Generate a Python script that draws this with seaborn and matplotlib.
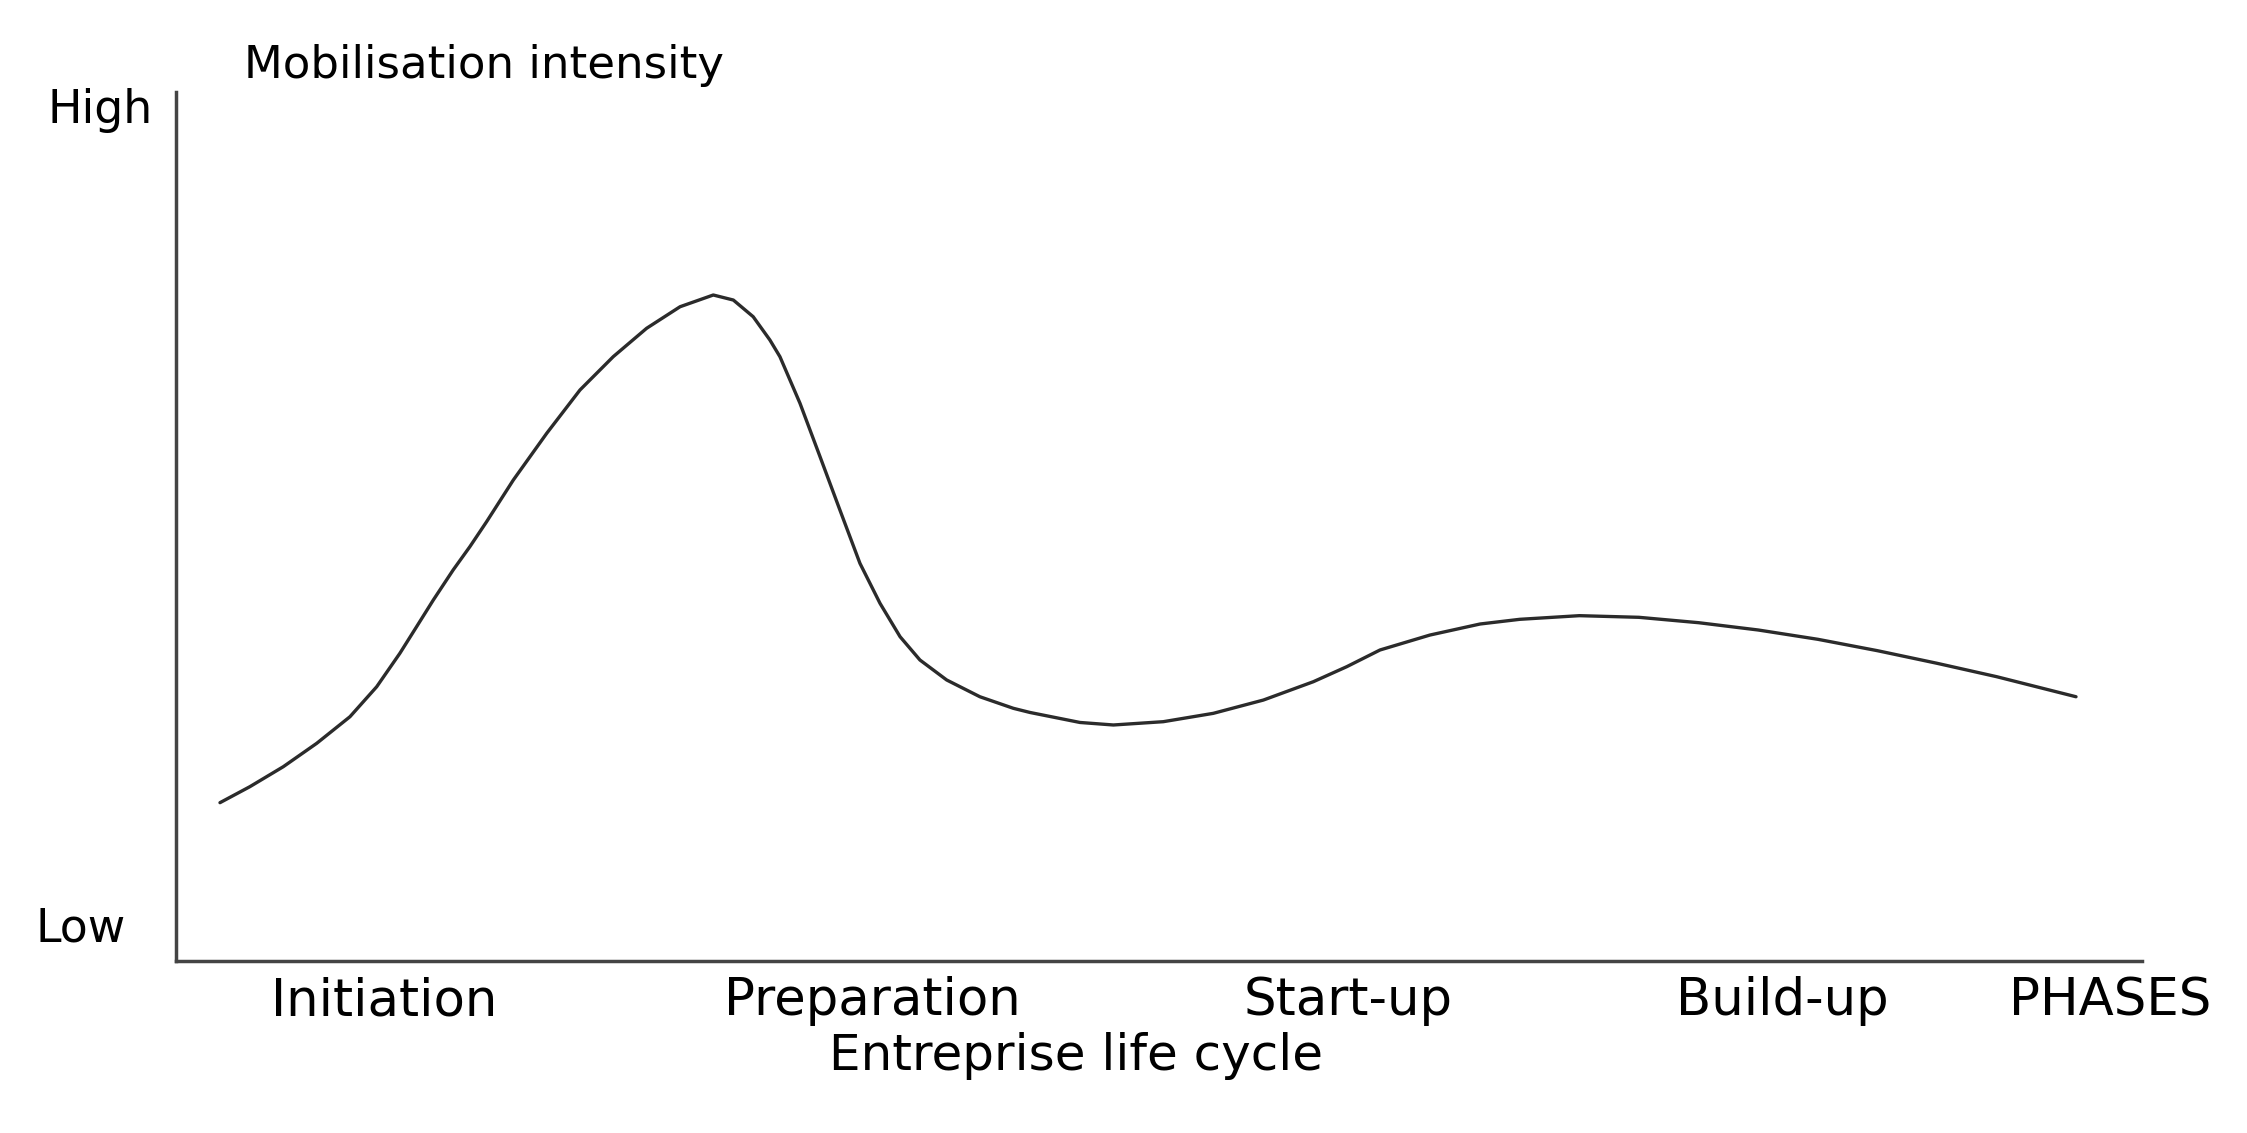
import matplotlib
matplotlib.use("Agg")
import matplotlib.pyplot as plt
import seaborn as sns

sns.set_theme(style="white")
plt.rcParams['font.family'] = ['DejaVu Sans']

# Curve: position along the life cycle (0-100) vs intensity (0-100)
cycle_pos = [2.24, 3.76, 5.46, 7.16, 8.85, 10.21, 11.39, 12.24, 13.09, 14.10, 14.95, 15.80,
             17.16, 18.86, 20.55, 22.24, 23.94, 25.64, 27.33, 28.35, 29.36, 30.21,
             30.72, 31.74, 32.76, 33.77, 34.79, 35.81, 36.83, 37.84, 39.20, 40.89, 42.59,
             43.44, 45.98, 47.68, 50.22, 52.76, 55.31, 57.85, 59.55, 61.24, 63.78, 66.33,
             68.35, 71.38, 74.41, 77.45, 80.48, 83.51, 86.54, 89.57, 92.60, 96.64]
intensity = [18.22, 20.06, 22.36, 25.05, 28.11, 31.56, 35.41, 38.47, 41.54, 45.0, 47.68, 50.55,
             55.35, 60.73, 65.71, 69.54, 72.81, 75.29, 76.64, 76.06, 74.14, 71.46,
             69.54, 64.18, 58.03, 51.90, 45.76, 41.16, 37.32, 34.64, 32.34, 30.41, 29.08,
             28.6, 27.45, 27.16, 27.54, 28.50, 30.03, 32.14, 33.87, 35.79, 37.51, 38.78,
             39.32, 39.74, 39.55, 38.93, 38.09, 37.02, 35.71, 34.26, 32.72, 30.41]

phases = ["Initiation", "Preparation", "Start-up", "Build-up", "PHASES"]
phase_pos = [10.6, 35.4, 59.6, 81.7, 98.4]

level_labels = ["Low", "High"]
level_pos = [3.7, 97.9]

fig = plt.figure(figsize=(22.47, 11.33), dpi=100)
ax = fig.add_axes([0.0783, 0.1518, 0.875, 0.767])

sns.lineplot(x=cycle_pos, y=intensity, color="#2b2b2b", linewidth=2.4, ax=ax,
             estimator=None, sort=False)

ax.set_xlim(0, 100)
ax.set_ylim(0, 100)
sns.despine(ax=ax)
for side in ["left", "bottom"]:
    ax.spines[side].set_color("#444444")
    ax.spines[side].set_linewidth(2.5)

ax.set_xticks(phase_pos)
ax.set_xticklabels(phases, fontsize=37, color="black")
ax.tick_params(axis="x", length=0, pad=11)
ax.set_yticks([])

# High / Low labels next to the y axis
ax.text(-3.85, level_pos[1], level_labels[1], fontsize=33, ha="center", va="center",
        color="black", clip_on=False)
ax.text(-4.83, level_pos[0], level_labels[0], fontsize=33, ha="center", va="center",
        color="black", clip_on=False)

ax.text(0.0346, 1.030, "Mobilisation intensity", fontsize=32.4, ha="left", va="center",
        color="black", transform=ax.transAxes, clip_on=False)
ax.text(0.458, -0.109, "Entreprise life cycle", fontsize=36, ha="center", va="center",
        color="black", transform=ax.transAxes, clip_on=False)

fig.savefig("out.png", dpi=100)
